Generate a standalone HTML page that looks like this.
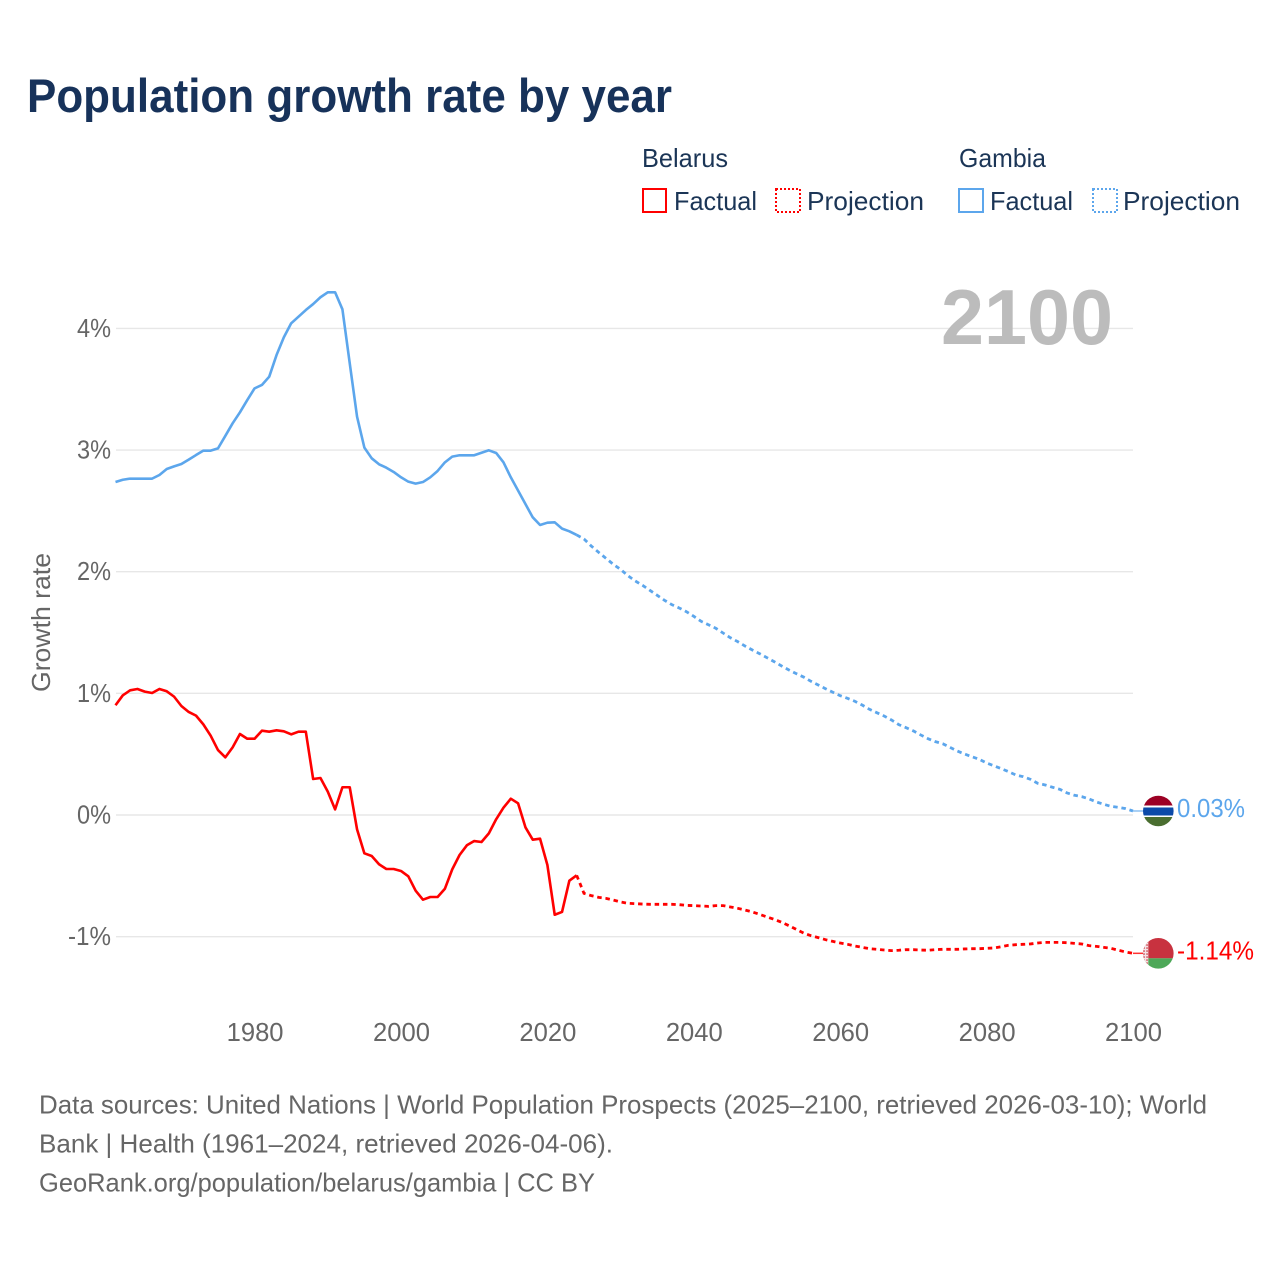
<!DOCTYPE html>
<html lang="en">
<head>
<meta charset="utf-8">
<title>Population growth rate by year</title>
<style>
  html, body { margin: 0; padding: 0; background: #fff; }
  svg { display: block; font-family: "Liberation Sans", sans-serif; }
  .legend-text { font-size: 25.6px; fill: #1b3556; }
  .muted { font-size: 25.6px; fill: #666; }
</style>
</head>
<body>
<svg id="chart" xmlns="http://www.w3.org/2000/svg" width="1280" height="1280" viewBox="0 0 1280 1280">
  <rect width="1280" height="1280" fill="#fff"/>
  <text x="27" y="112" font-size="47" font-weight="700" fill="#17325a" textLength="645" lengthAdjust="spacingAndGlyphs">Population growth rate by year</text>

  <g>
    <text class="legend-text" x="642" y="167" textLength="86" lengthAdjust="spacingAndGlyphs">Belarus</text>
    <rect x="643" y="189" width="23" height="23" fill="none" stroke="#f00" stroke-width="2"/>
    <text class="legend-text" x="674" y="210" textLength="83" lengthAdjust="spacingAndGlyphs">Factual</text>
    <rect x="776" y="189" width="24" height="23" fill="none" stroke="#f00" stroke-width="2" stroke-dasharray="2 2"/>
    <text class="legend-text" x="807" y="210" textLength="117" lengthAdjust="spacingAndGlyphs">Projection</text>

    <text class="legend-text" x="959" y="167" textLength="87" lengthAdjust="spacingAndGlyphs">Gambia</text>
    <rect x="959" y="189" width="24" height="23" fill="none" stroke="#5ca6ec" stroke-width="2"/>
    <text class="legend-text" x="990" y="210" textLength="83" lengthAdjust="spacingAndGlyphs">Factual</text>
    <rect x="1093" y="189" width="24" height="23" fill="none" stroke="#5ca6ec" stroke-width="2" stroke-dasharray="2 2"/>
    <text class="legend-text" x="1123" y="210" textLength="117" lengthAdjust="spacingAndGlyphs">Projection</text>
  </g>

  <g id="grid"></g>
  <g id="yticks"></g>
  <g id="xticks"></g>

  <text class="muted" transform="translate(50,692) rotate(-90)" x="0" y="0" textLength="139" lengthAdjust="spacingAndGlyphs">Growth rate</text>

  <text x="941" y="344" font-size="78" font-weight="700" fill="#bcbcbc" textLength="172" lengthAdjust="spacingAndGlyphs">2100</text>

  <g id="series"></g>

  <defs>
    <clipPath id="flag-clip"><circle cx="0" cy="0" r="15.3"/></clipPath>
    <pattern id="ornament" width="3" height="3" patternUnits="userSpaceOnUse">
      <rect width="3" height="3" fill="#f4e4e6"/>
      <rect width="1.5" height="1.5" fill="#cf4a55"/>
    </pattern>
  </defs>

  <g id="flag-gambia">
    <g clip-path="url(#flag-clip)">
      <rect x="-16" y="-16" width="32" height="32" fill="#fff"/>
      <rect x="-16" y="-16" width="32" height="10.5" fill="#9c0024"/>
      <rect x="-16" y="-3.5" width="32" height="8" fill="#0b4aa8"/>
      <rect x="-16" y="6" width="32" height="10" fill="#4a6e30"/>
    </g>
  </g>
  <g id="flag-belarus">
    <g clip-path="url(#flag-clip)">
      <rect x="-16" y="-16" width="32" height="21" fill="#c8323f"/>
      <rect x="-16" y="5" width="32" height="11" fill="#4da858"/>
      <rect x="-16" y="-16" width="6" height="32" fill="url(#ornament)"/>
    </g>
  </g>
  <text id="label-gambia" x="1177" font-size="25.6" fill="#5ca6ec" textLength="68" lengthAdjust="spacingAndGlyphs"></text>
  <text id="label-belarus" x="1177" font-size="25.6" fill="#f00" textLength="77" lengthAdjust="spacingAndGlyphs"></text>

  <g>
    <text class="muted" x="39" y="1113.5" textLength="1168" lengthAdjust="spacingAndGlyphs">Data sources: United Nations | World Population Prospects (2025–2100, retrieved 2026-03-10); World</text>
    <text class="muted" x="39" y="1152.5" textLength="574" lengthAdjust="spacingAndGlyphs">Bank | Health (1961–2024, retrieved 2026-04-06).</text>
    <text class="muted" x="39" y="1191.5" textLength="556" lengthAdjust="spacingAndGlyphs">GeoRank.org/population/belarus/gambia | CC BY</text>
  </g>
</svg>

<script>
const factualYears = [1961,1962,1963,1964,1965,1966,1967,1968,1969,1970,1971,1972,1973,1974,1975,1976,1977,1978,1979,1980,1981,1982,1983,1984,1985,1986,1987,1988,1989,1990,1991,1992,1993,1994,1995,1996,1997,1998,1999,2000,2001,2002,2003,2004,2005,2006,2007,2008,2009,2010,2011,2012,2013,2014,2015,2016,2017,2018,2019,2020,2021,2022,2023,2024];
const projectionYears = [2024,2025,2026,2027,2028,2029,2030,2031,2032,2033,2034,2035,2036,2037,2038,2039,2040,2041,2042,2043,2044,2045,2046,2047,2048,2049,2050,2051,2052,2053,2054,2055,2056,2057,2058,2059,2060,2061,2062,2063,2064,2065,2066,2067,2068,2069,2070,2071,2072,2073,2074,2075,2076,2077,2078,2079,2080,2081,2082,2083,2084,2085,2086,2087,2088,2089,2090,2091,2092,2093,2094,2095,2096,2097,2098,2099,2100];

const gambiaFactual = [2.737,2.756,2.765,2.765,2.765,2.765,2.795,2.844,2.866,2.885,2.921,2.959,2.995,2.995,3.014,3.116,3.22,3.31,3.411,3.507,3.535,3.603,3.781,3.927,4.042,4.096,4.151,4.2,4.256,4.297,4.297,4.157,3.713,3.274,3.02,2.932,2.883,2.855,2.82,2.776,2.74,2.724,2.737,2.776,2.828,2.899,2.946,2.957,2.957,2.957,2.978,2.998,2.976,2.899,2.776,2.666,2.556,2.447,2.384,2.403,2.406,2.354,2.332,2.302];
const gambiaProjection = [2.302,2.269,2.211,2.159,2.11,2.061,2.019,1.967,1.924,1.888,1.847,1.806,1.765,1.729,1.702,1.671,1.633,1.592,1.564,1.535,1.496,1.457,1.425,1.389,1.356,1.326,1.293,1.26,1.225,1.192,1.162,1.134,1.099,1.069,1.038,1.009,0.981,0.959,0.935,0.904,0.869,0.841,0.814,0.781,0.743,0.718,0.691,0.658,0.627,0.603,0.586,0.556,0.526,0.501,0.479,0.458,0.427,0.405,0.381,0.356,0.329,0.315,0.293,0.26,0.247,0.228,0.211,0.181,0.162,0.151,0.132,0.107,0.088,0.071,0.063,0.052,0.033];
const belarusFactual = [0.902,0.984,1.025,1.036,1.014,1.003,1.036,1.017,0.973,0.896,0.847,0.817,0.745,0.652,0.534,0.474,0.556,0.666,0.627,0.627,0.693,0.685,0.696,0.688,0.663,0.685,0.685,0.296,0.304,0.192,0.046,0.228,0.228,-0.118,-0.315,-0.337,-0.405,-0.444,-0.444,-0.46,-0.504,-0.622,-0.696,-0.674,-0.674,-0.606,-0.447,-0.329,-0.249,-0.214,-0.222,-0.151,-0.035,0.06,0.134,0.096,-0.101,-0.203,-0.195,-0.411,-0.82,-0.797,-0.54,-0.496];
const belarusProjection = [-0.496,-0.644,-0.663,-0.677,-0.685,-0.699,-0.715,-0.726,-0.729,-0.732,-0.734,-0.734,-0.734,-0.734,-0.737,-0.743,-0.745,-0.748,-0.751,-0.745,-0.745,-0.756,-0.767,-0.781,-0.797,-0.817,-0.838,-0.858,-0.882,-0.91,-0.94,-0.97,-0.992,-1.008,-1.025,-1.039,-1.052,-1.063,-1.077,-1.088,-1.099,-1.104,-1.11,-1.115,-1.112,-1.107,-1.107,-1.11,-1.112,-1.107,-1.104,-1.104,-1.104,-1.101,-1.099,-1.099,-1.096,-1.093,-1.083,-1.071,-1.066,-1.063,-1.06,-1.052,-1.047,-1.047,-1.047,-1.05,-1.055,-1.06,-1.074,-1.08,-1.088,-1.096,-1.112,-1.126,-1.137];

const yTickValues = [-1,0,1,2,3,4];
const xTickYears = [1980,2000,2020,2040,2060,2080,2100];

const SVGNS = 'http://www.w3.org/2000/svg';
const gridLeft = 116;
const gridRight = 1133;

function xScale(year) { return 115.5 + (year - 1961) * (1133 - 115.5) / (2100 - 1961); }
function yScale(value) { return 815 - value * 121.65; }

function make(tag, attrs) {
  const el = document.createElementNS(SVGNS, tag);
  for (const k in attrs) el.setAttribute(k, attrs[k]);
  return el;
}

const gridGroup = document.getElementById('grid');
const yTickGroup = document.getElementById('yticks');
yTickValues.forEach(function (v) {
  const line = make('line', { x1: gridLeft, x2: gridRight, y1: yScale(v), y2: yScale(v), stroke: '#e7e7e7', 'stroke-width': 1.4 });
  
  
  gridGroup.appendChild(line);
  const text = v + '%';
  const label = make('text', { x: 111, y: yScale(v) + 8.5, 'text-anchor': 'end', class: 'muted', textLength: v < 0 ? 43 : 34, lengthAdjust: 'spacingAndGlyphs' });
  
  
  label.textContent = text;
  yTickGroup.appendChild(label);
});

const xTickGroup = document.getElementById('xticks');
xTickYears.forEach(function (yr) {
  const label = make('text', { x: xScale(yr) + 0.5, y: 1041, 'text-anchor': 'middle', class: 'muted' });
  
  
  label.textContent = yr;
  xTickGroup.appendChild(label);
});

function pathFrom(years, values) {
  return values.map(function (v, i) {
    return (i ? 'L' : 'M') + xScale(years[i]).toFixed(2) + ' ' + yScale(v).toFixed(2);
  }).join('');
}

const seriesGroup = document.getElementById('series');

const belarusFactualLine = make('path', { d: pathFrom(factualYears, belarusFactual), fill: 'none', stroke: '#f00', 'stroke-width': 2.6, 'stroke-linejoin': 'round' });


seriesGroup.appendChild(belarusFactualLine);

const belarusProjectionLine = make('path', { d: pathFrom(projectionYears, belarusProjection), fill: 'none', stroke: '#f00', 'stroke-width': 2.8, 'stroke-dasharray': '4.5 3.8' });


seriesGroup.appendChild(belarusProjectionLine);

const gambiaFactualLine = make('path', { d: pathFrom(factualYears, gambiaFactual), fill: 'none', stroke: '#5ca6ec', 'stroke-width': 2.6, 'stroke-linejoin': 'round' });


seriesGroup.appendChild(gambiaFactualLine);

const gambiaProjectionLine = make('path', { d: pathFrom(projectionYears, gambiaProjection), fill: 'none', stroke: '#5ca6ec', 'stroke-width': 2.8, 'stroke-dasharray': '4.5 3.8' });


seriesGroup.appendChild(gambiaProjectionLine);

const lastGambia = gambiaProjection[gambiaProjection.length - 1];
const lastBelarus = belarusProjection[belarusProjection.length - 1];

const gambiaConnector = make('line', { x1: gridRight, x2: 1146, y1: yScale(lastGambia), y2: yScale(lastGambia), stroke: '#5ca6ec', 'stroke-width': 1.5, opacity: 0.7 });


seriesGroup.appendChild(gambiaConnector);

const belarusConnector = make('line', { x1: gridRight, x2: 1146, y1: yScale(lastBelarus), y2: yScale(lastBelarus), stroke: '#f00', 'stroke-width': 1.5, opacity: 0.8 });


seriesGroup.appendChild(belarusConnector);

document.getElementById('flag-gambia').setAttribute('transform', 'translate(1158.3,' + yScale(lastGambia).toFixed(2) + ')');
document.getElementById('flag-belarus').setAttribute('transform', 'translate(1158.3,' + yScale(lastBelarus).toFixed(2) + ')');

const gambiaLabel = document.getElementById('label-gambia');
gambiaLabel.setAttribute('y', (yScale(lastGambia) + 6).toFixed(2));
gambiaLabel.textContent = lastGambia.toFixed(2) + '%';

const belarusLabel = document.getElementById('label-belarus');
belarusLabel.setAttribute('y', (yScale(lastBelarus) + 6).toFixed(2));
belarusLabel.textContent = lastBelarus.toFixed(2) + '%';
</script>
</body>
</html>
